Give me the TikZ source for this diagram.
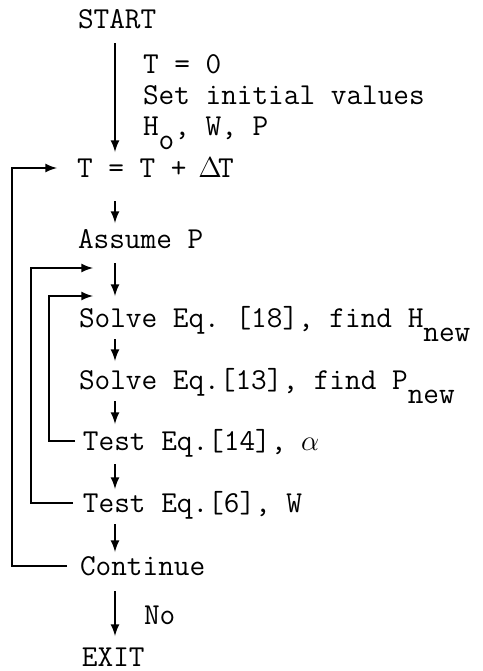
\documentclass[tikz,border=0pt]{standalone}
\usepackage{fontspec}
\usepackage{tikz}
\usetikzlibrary{scopes}

\tikzset{
  txt/.style={anchor=west, inner sep=0pt, text height=9pt, text depth=0pt},
  note/.style={anchor=north west, inner sep=0pt, align=left},
}
\newcommand{\lowsub}[1]{\raisebox{-7pt}{#1}}
\newcommand{\cell}[1]{\makebox[0.525em]{#1}}

\begin{document}
\begin{tikzpicture}[x=0.5pt, y=-0.5pt, >=latex, line width=1pt,
    font=\ttfamily\fontsize{15.2}{15.3}\selectfont\frenchspacing]
        \useasboundingbox (0,0) rectangle (483,671);

        \coordinate (spine) at (115,0);
        \coordinate (outer) at (12,0);
        \coordinate (middle) at (31,0);
        \coordinate (inner) at (49,0);
        \coordinate (mloop) at (93,268);
        \coordinate (iloop) at (93,296);

        \node[txt] (start) at (77,19) {START};
        \node[note] (init) at (142,54) {T = 0\\Set initial values\\H\lowsub{o}, W, P};
        \node[txt] (tstep) at (76,168) {T = T + \cell{$\Delta$}T};
        \node[txt] (assume) at (77,239) {Assume P};
        \node[txt] (solveH) at (78,318) {Solve Eq. [18], find H\lowsub{new}};
        \node[txt] (solveP) at (78,380) {Solve Eq.[13], find P\lowsub{new}};
        \node[txt] (testA) at (82,441) {Test Eq.[14], \cell{$\alpha$}};
        \node[txt] (testW) at (82,503) {Test Eq.[6], W};
        \node[txt] (cont) at (79,566) {Continue};
        \node[txt] (no) at (143,615) {No};
        \node[txt] (exit) at (81,657) {EXIT};

        {[->]
            \draw[shorten <=7pt, shorten >=3pt] (start.south -| spine) -- (tstep.north -| spine);
            \draw[shorten <=11.5pt, shorten >=3pt] (tstep.south -| spine) -- (assume.north -| spine);
            \draw[shorten <=7pt, shorten >=6pt] (assume.south -| spine) -- (solveH.north -| spine);
            \draw[shorten <=5.5pt, shorten >=4.5pt] (solveH.south -| spine) -- (solveP.north -| spine);
            \draw[shorten <=5.5pt, shorten >=3.5pt] (solveP.south -| spine) -- (testA.north -| spine);
            \draw[shorten <=6.5pt, shorten >=2pt] (testA.south -| spine) -- (testW.north -| spine);
            \draw[shorten <=5.5pt, shorten >=2pt] (testW.south -| spine) -- (cont.north -| spine);
            \draw[shorten <=7.5pt, shorten >=5.5pt] (cont.south -| spine) -- (exit.north -| spine);
        }

        % loops back
        \draw[->, shorten <=6pt, shorten >=9.5pt] (cont.west) -- (cont.west -| outer) |- (tstep.west);
        \draw[->, shorten <=4.5pt] (testW.west) -- (testW.west -| middle) |- (mloop);
        \draw[->, shorten <=3.5pt] (testA.west) -- (testA.west -| inner) |- (iloop);

    \end{tikzpicture}
\end{document}
